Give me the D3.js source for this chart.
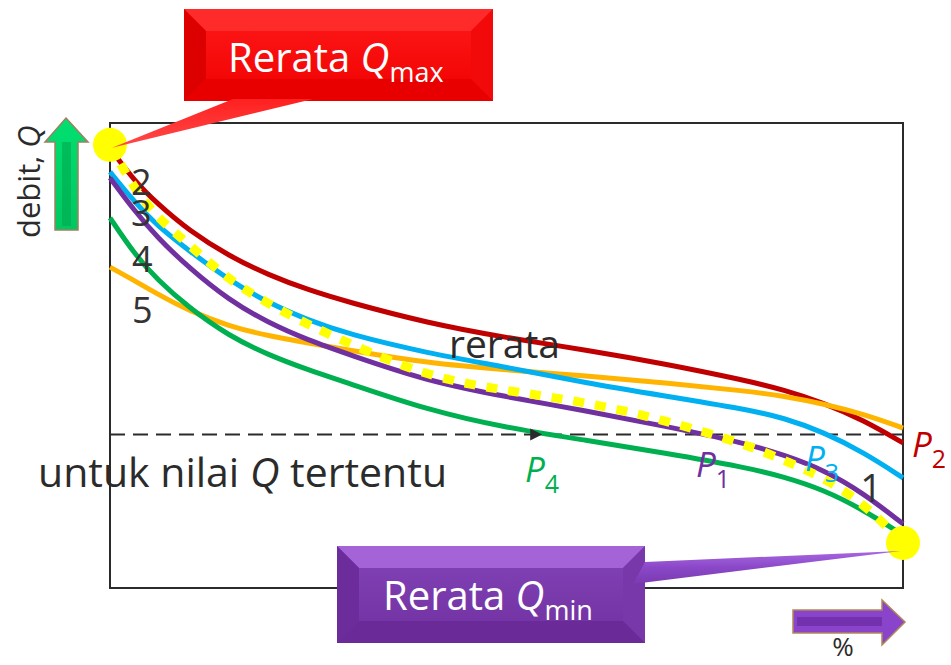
<!DOCTYPE html>
<html>
<head>
<meta charset="utf-8">
<script src="https://cdn.jsdelivr.net/npm/d3@7"></script>
<style>
body { margin: 0; background: #fff; }
svg text { font-family: "Open Sans", sans-serif; }
</style>
</head>
<body>
<div id="chart"></div>
<script>
// percent of time (x) shared by all curves
var pct = [0, 3, 6, 10, 15, 20, 25, 30, 40, 50, 60, 70, 80, 85, 90, 95, 100];
// debit Q for each curve (relative units, 0-100)
var qP2 = [94.6, 87.7, 82.6, 76.8, 71.4, 67.3, 64.1, 61.5, 57.0, 53.8, 51.2, 48.2, 44.7, 42.6, 39.8, 36.1, 31.2];
var q5 = [69.0, 66.2, 63.2, 59.6, 56.3, 54.2, 52.7, 51.2, 48.4, 46.9, 45.6, 44.1, 42.4, 41.3, 39.6, 37.4, 34.4];
var qP3 = [89.5, 83.2, 77.8, 72.5, 66.2, 61.3, 57.6, 54.6, 50.5, 47.5, 44.1, 41.3, 38.5, 36.6, 33.5, 29.2, 23.7];
var qP1 = [88.2, 81.3, 75.3, 68.8, 61.9, 57.0, 53.3, 50.3, 44.5, 41.1, 38.1, 34.8, 31.2, 28.6, 25.4, 20.4, 13.8];
var qP4 = [79.6, 72.0, 66.2, 60.2, 54.2, 50.1, 46.9, 44.1, 38.3, 34.4, 31.8, 29.0, 26.0, 23.9, 21.1, 16.8, 11.4];
var qRerata = [95.3, 86.0, 79.6, 73.8, 66.2, 61.1, 56.6, 52.7, 45.4, 42.4, 40.0, 36.1, 31.0, 27.5, 23.7, 18.3, 9.7];
var qLevel = 33;
var qMax = [0, 95.3];
var qMin = [100, 9.7];

var width = 951, height = 665;
var margin = {top: 123, right: 48, bottom: 77, left: 110};

var svg = d3.select("#chart").append("svg")
    .attr("width", width)
    .attr("height", height);

var x = d3.scaleLinear().domain([0, 100]).range([margin.left, width - margin.right]);
var y = d3.scaleLinear().domain([0, 100]).range([height - margin.bottom, margin.top]);

var defs = svg.append("defs");
function vgrad(id, stops) {
	var g = defs.append("linearGradient").attr("id", id)
		.attr("x1", 0).attr("y1", 0).attr("x2", 0).attr("y2", 1);
	stops.forEach(function (s) {
		g.append("stop").attr("offset", s[0]).attr("stop-color", s[1]);
	});
}
vgrad("redFace", [[0, "#ff1a1a"], [1, "#f00000"]]);
vgrad("purFace", [[0, "#8344b8"], [1, "#7030a0"]]);
vgrad("redTip", [[0, "#ff2020"], [1, "#ff4a4a"]]);
vgrad("purTip", [[0, "#a868e0"], [0.5, "#8a48c8"], [1, "#7a3ab0"]]);
vgrad("grnArrow", [[0, "#00e070"], [1, "#00c860"]]);

// frame
svg.append("rect")
	.attr("x", x(0)).attr("y", y(100))
	.attr("width", x(100) - x(0)).attr("height", y(0) - y(100))
	.attr("fill", "none").attr("stroke", "#2b2b2b").attr("stroke-width", 2);

// level line with arrow
svg.append("line")
	.attr("x1", x(0)).attr("x2", x(100))
	.attr("y1", y(qLevel)).attr("y2", y(qLevel))
	.attr("stroke", "#2b2b2b").attr("stroke-width", 2)
	.attr("stroke-dasharray", "15,8");

var line = d3.line()
	.x(function (d, i) { return x(pct[i]); })
	.y(function (d) { return y(d); })
	.curve(d3.curveBasis);

var series = [
	{name: "P2", values: qP2, color: "#c00000"},
	{name: "5", values: q5, color: "#ffb400"},
	{name: "P3", values: qP3, color: "#00b0f0"},
	{name: "P1", values: qP1, color: "#7030a0"},
	{name: "P4", values: qP4, color: "#00b050"}
];

svg.append("g").selectAll("path")
	.data(series)
	.enter().append("path")
	.attr("d", function (d) { return line(d.values); })
	.attr("fill", "none")
	.attr("stroke", function (d) { return d.color; })
	.attr("stroke-width", 5);

svg.append("path")
	.attr("d", line(qRerata))
	.attr("fill", "none")
	.attr("stroke", "#ffff00")
	.attr("stroke-width", 9)
	.attr("stroke-dasharray", "11,11");

// arrow on level line
var ax = x(54.5), ay = y(qLevel);
svg.append("path")
	.attr("d", "M" + (ax - 12) + "," + (ay - 6) + "L" + ax + "," + ay + "L" + (ax - 12) + "," + (ay + 6) + "Z")
	.attr("fill", "#2b2b2b");

// yellow points
svg.selectAll("circle.pt")
	.data([qMax, qMin])
	.enter().append("circle")
	.attr("cx", function (d) { return x(d[0]); })
	.attr("cy", function (d) { return y(d[1]); })
	.attr("r", 17)
	.attr("fill", "#ffff00");

// callouts
function bevelBox(x0, y0, w, h, b, face, top, left, right, bottom) {
	var g = svg.append("g");
	var pts = function (a) { return a.map(function (p) { return p.join(","); }).join(" "); };
	g.append("rect").attr("x", x0).attr("y", y0).attr("width", w).attr("height", h).attr("fill", face);
	g.append("polygon").attr("points", pts([[x0, y0], [x0 + w, y0], [x0 + w - b, y0 + b], [x0 + b, y0 + b]])).attr("fill", top);
	g.append("polygon").attr("points", pts([[x0, y0], [x0 + b, y0 + b], [x0 + b, y0 + h - b], [x0, y0 + h]])).attr("fill", left);
	g.append("polygon").attr("points", pts([[x0 + w, y0], [x0 + w, y0 + h], [x0 + w - b, y0 + h - b], [x0 + w - b, y0 + b]])).attr("fill", right);
	g.append("polygon").attr("points", pts([[x0, y0 + h], [x0 + w, y0 + h], [x0 + w - b, y0 + h - b], [x0 + b, y0 + h - b]])).attr("fill", bottom);
	return g;
}

bevelBox(184, 9, 309, 92, 22, "url(#redFace)", "#ff2b2b", "#dc0000", "#f20a0a", "#e80000");
svg.append("polygon")
	.attr("points", [[233, 99], [313, 99], [x(qMax[0]) + 2, y(qMax[1]) + 3]].map(function (p) { return p.join(","); }).join(" "))
	.attr("fill", "url(#redTip)");

bevelBox(337, 546, 308, 97, 22, "url(#purFace)", "#a464d8", "#6c2c9c", "#7838aa", "#6a2a98");
svg.append("polygon")
	.attr("points", [[645, 562], [633, 584], [x(qMin[0]) - 2, y(qMin[1]) + 8]].map(function (p) { return p.join(","); }).join(" "))
	.attr("fill", "url(#purTip)");

function qText(tx, ty, sub, size, subSize, color, prefix) {
	var t = svg.append("text").attr("x", tx).attr("y", ty)
		.attr("font-size", size).attr("fill", color);
	if (prefix) t.append("tspan").text(prefix);
	t.append("tspan").attr("font-style", "italic").text("Q");
	t.append("tspan").attr("font-size", subSize).attr("dy", 10).text(sub);
}
qText(228, 72, "max", 40, 27, "#ffffff", "Rerata ");
qText(383, 610, "min", 40, 27, "#ffffff", "Rerata ");

// curve numbers
var numColor = "#333333";
[["2", 131, 195], ["3", 131, 226], ["4", 132, 272], ["5", 132, 323]].forEach(function (d) {
	svg.append("text").attr("x", d[1]).attr("y", d[2]).attr("font-size", 36)
		.attr("fill", numColor).text(d[0]);
});
svg.append("text").attr("x", 871).attr("y", 502).attr("text-anchor", "middle")
	.attr("font-size", 38).attr("fill", numColor).text("1");

svg.append("text").attr("x", 449).attr("y", 358).attr("font-size", 39)
	.attr("fill", "#2b2b2b").text("rerata");

var lvl = svg.append("text").attr("x", 38).attr("y", 487).attr("font-size", 41).attr("fill", "#2b2b2b");
lvl.append("tspan").text("untuk nilai ");
lvl.append("tspan").attr("font-style", "italic").text("Q");
lvl.append("tspan").text(" tertentu");

// P labels
function pLabel(tx, ty, sub, color) {
	var t = svg.append("text").attr("x", tx).attr("y", ty).attr("font-size", 35).attr("fill", color);
	t.append("tspan").attr("font-style", "italic").text("P");
	t.append("tspan").attr("font-size", 25).attr("dy", 11).text(sub);
}
pLabel(525, 482, "4", "#00b050");
pLabel(696, 477, "1", "#7030a0");
pLabel(805, 471, "3", "#00b0f0");
pLabel(912, 457, "2", "#c00000");

// axis captions
svg.append("text")
	.attr("transform", "translate(40,238) rotate(-90)")
	.attr("font-size", 31).attr("fill", "#2b2b2b")
	.html("debit, <tspan font-style='italic'>Q</tspan>");

svg.append("path")
	.attr("d", "M66,118 L88,142 L78,142 L78,230 L55,230 L55,142 L45,142 Z")
	.attr("fill", "url(#grnArrow)").attr("stroke", "#a08060").attr("stroke-width", 1.5);
svg.append("rect").attr("x", 62).attr("y", 142).attr("width", 9).attr("height", 84).attr("fill", "#00a850").attr("opacity", 0.6);

svg.append("path")
	.attr("d", "M793,610 L882,610 L882,600 L905,622 L882,645 L882,633 L793,633 Z")
	.attr("fill", "#8a44cc").attr("stroke", "#b08858").attr("stroke-width", 1.5);
svg.append("rect").attr("x", 797).attr("y", 617).attr("width", 85).attr("height", 9).attr("fill", "#6a2aa0").attr("opacity", 0.7);

svg.append("text").attr("x", 843).attr("y", 656).attr("text-anchor", "middle")
	.attr("font-size", 26).attr("fill", "#2b2b2b").text("%");
</script>
</body>
</html>
